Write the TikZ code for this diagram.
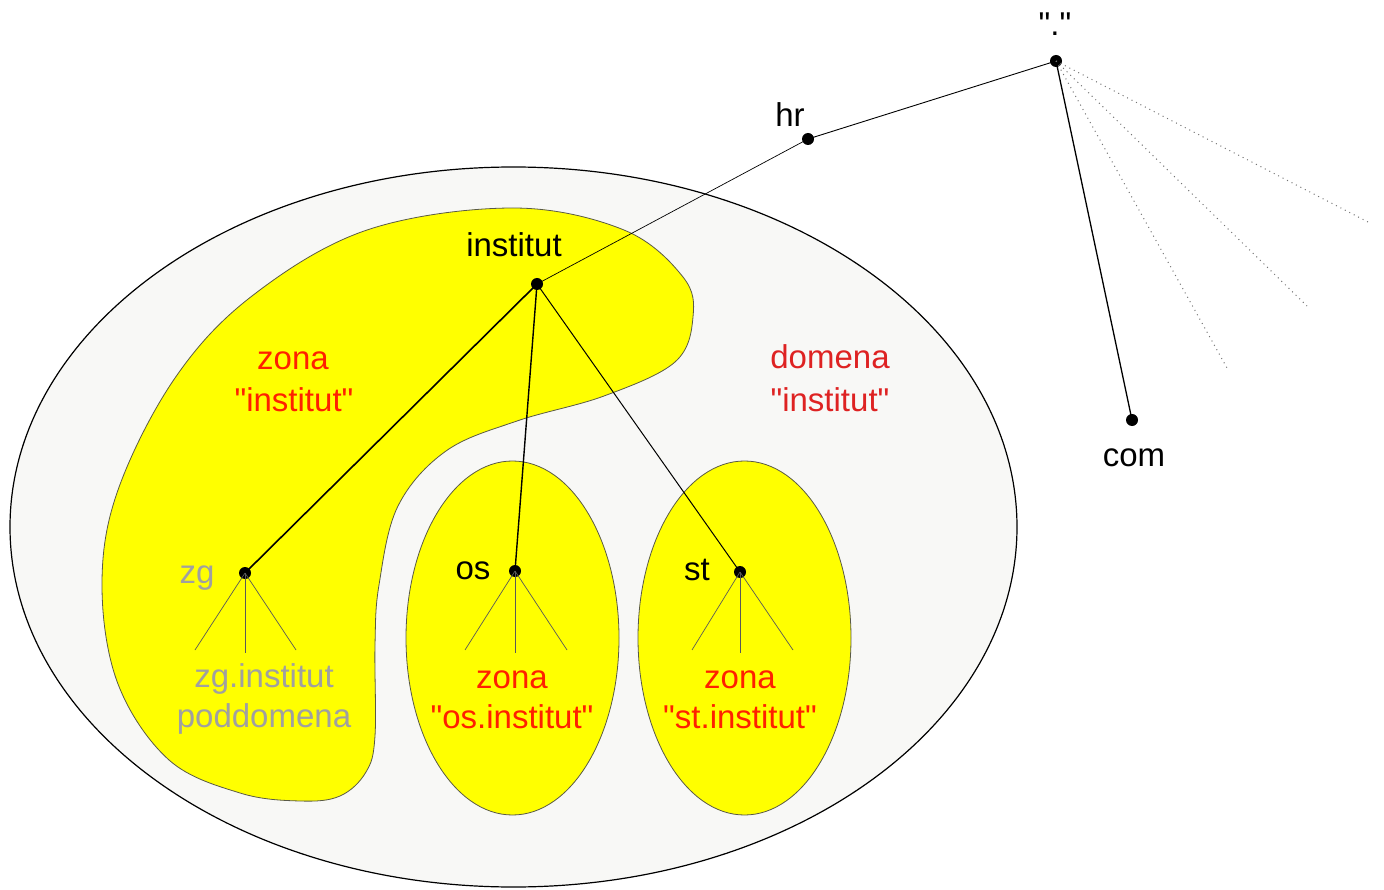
\documentclass[tikz,border=0pt]{standalone}
\usepackage{fontspec}
\setmainfont{Liberation Sans}[Ligatures=TeXOff]
\definecolor{bggray}{RGB}{248,248,246}
\definecolor{zyellow}{RGB}{255,255,0}
\definecolor{zred}{RGB}{255,32,0}
\definecolor{dred}{RGB}{222,34,34}
\definecolor{lgray}{RGB}{160,160,160}
\definecolor{edgegray}{RGB}{90,90,70}
\tikzset{
  dot/.style={circle,fill=black,inner sep=0pt,minimum size=12pt},
  lbl/.style={font=\fontsize{33}{40}\selectfont,inner sep=0pt,anchor=base},
  zonelbl/.style={lbl,text=zred},
  domlbl/.style={lbl,text=dred},
  sublbl/.style={lbl,text=lgray},
  zonefill/.style={fill=zyellow,draw=edgegray,line width=0.8pt},
  subline/.style={draw=black!65,line width=0.7pt},
  dotline/.style={draw=black!55,line width=1pt,dash pattern=on 1pt off 4pt}
}
\begin{document}
\begin{tikzpicture}[x=1pt,y=-1pt]
\useasboundingbox (0,0) rectangle (1384,890);
% domain ellipse
\draw[fill=bggray,draw=black,line width=1.2pt] (513.5,527) ellipse [x radius=503.5, y radius=360];
% zone institut blob
\path[zonefill] plot[smooth cycle, tension=0.6] coordinates {
 (513,208) (624,230) (683,277) (693,317) (675,362) (604,396) (517,421)
 (446,451) (398,506) (379,585) (375,645) (375,736) (366,772) (340,796)
 (300,801) (240,793) (169,760) (118,684) (102,585) (118,490) (175,378) (252,296) (367,230)};
% zone ellipses
\path[zonefill] (512.5,638) ellipse [x radius=106.5, y radius=177];
\path[zonefill] (744.5,638) ellipse [x radius=106.5, y radius=177];
% dots
\node[dot] (root) at (1056,61) {};
\node[dot] (hr) at (808,139) {};
\node[dot] (inst) at (537,284) {};
\node[dot] (zg) at (245,573) {};
\node[dot] (os) at (515,571) {};
\node[dot] (st) at (740,572) {};
\node[dot] (com) at (1132,420) {};
% dotted ends
\coordinate (d1) at (1368,222);
\coordinate (d2) at (1307,306);
\coordinate (d3) at (1227,368);
% sub line ends
\coordinate (zg1) at (195,650); \coordinate (zg2) at (245,653); \coordinate (zg3) at (296,650);
\coordinate (os1) at (465,650); \coordinate (os2) at (515,653); \coordinate (os3) at (567,650);
\coordinate (st1) at (692,650); \coordinate (st2) at (740,653); \coordinate (st3) at (793,650);
% connectors
\draw[line width=0.9pt] (root.center) -- (hr.center);
\draw[line width=0.7pt] (hr.center) -- (inst.center);
\draw[line width=1.3pt] (root.center) -- (com.center);
\draw[line width=1.6pt] (inst.center) -- (zg.center);
\draw[line width=1.4pt] (inst.center) -- (os.center);
\draw[line width=1.0pt] (inst.center) -- (st.center);
\draw[dotline] (root.center) -- (d1);
\draw[dotline] (root.center) -- (d2);
\draw[dotline] (root.center) -- (d3);
\foreach \n in {1,2,3} {
  \draw[subline] (zg.center) -- (zg\n);
  \draw[subline] (os.center) -- (os\n);
  \draw[subline] (st.center) -- (st\n);
}
% labels
\node[lbl] (lroot) at (1055,36) {"."};
\node[lbl] (lhr) at (790,127) {hr};
\node[lbl] (linst) at (514,257) {institut};
\node[lbl] (lcom) at (1134,466) {com};
\node[lbl] (los) at (473,579) {os};
\node[lbl] (lst) at (697,580) {st};
\node[sublbl] (lzg) at (197,583) {zg};
\node[sublbl] (lzgi) at (264,687) {zg.institut};
\node[sublbl] (lzgp) at (264,727) {poddomena};
\node[zonelbl] (lz1a) at (293,370) {zona};
\node[zonelbl] (lz1b) at (294,411) {"institut"};
\node[domlbl] (ld1) at (830,369) {domena};
\node[domlbl] (ld2) at (830,411) {"institut"};
\node[zonelbl] (lz2a) at (512,688) {zona};
\node[zonelbl] (lz2b) at (512,728) {"os.institut"};
\node[zonelbl] (lz3a) at (740,688) {zona};
\node[zonelbl] (lz3b) at (740,728) {"st.institut"};
\end{tikzpicture}
\end{document}
